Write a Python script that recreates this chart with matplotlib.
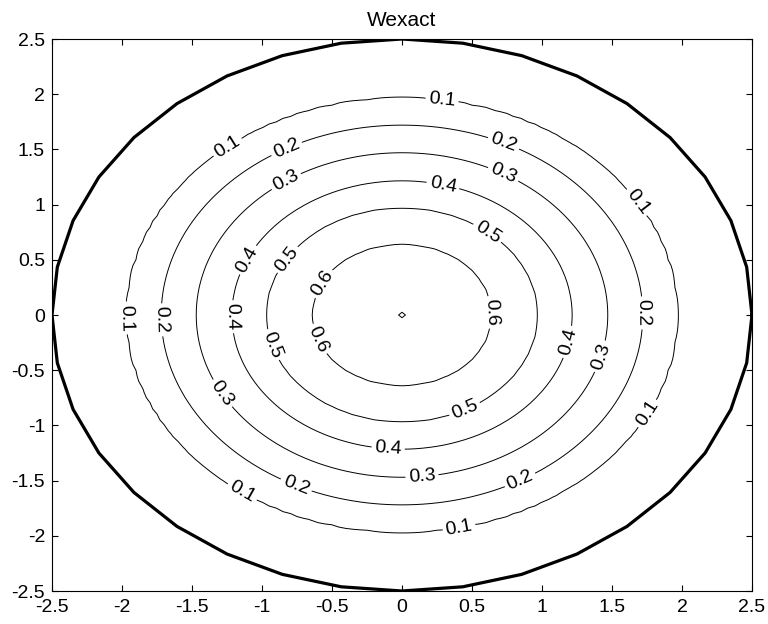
import numpy as np
import matplotlib
matplotlib.use("Agg")
import matplotlib.pyplot as plt

plt.rcParams['font.family'] = ['Liberation Sans', 'DejaVu Sans']

# plate boundary: circle of radius 2.5 drawn as a 36-sided polygon
plate_radius = 2.5
n_sides = 36

# radial profile of the exact deflection: radius -> W
profile_r = [0.0, 0.645, 0.97, 1.215, 1.47, 1.72, 1.965, 2.5]
profile_w = [0.704, 0.6, 0.5, 0.4, 0.3, 0.2, 0.1, 0.0]

levels = [0.1, 0.2, 0.3, 0.4, 0.5, 0.6, 0.7]
label_levels = [0.1, 0.2, 0.3, 0.4, 0.5, 0.6]

# where the contour labels sit (data coords)
label_pts = [
    (0.286, 1.947), (-1.243, 1.513), (1.671, 1.014), (-1.979, -0.027),
    (-1.15, -1.621), (0.407, -1.920), (1.757, -0.897),
    (-0.821, 1.495), (0.721, 1.540), (1.686, 0.018), (-1.743, -0.045),
    (-0.764, -1.567), (0.843, -1.495),
    (-0.821, 1.196), (0.714, 1.25), (1.429, -0.380), (-1.3, -0.725),
    (0.143, -1.467),
    (-1.1, 0.498), (0.293, 1.178), (1.186, -0.245), (-1.264, -0.018),
    (-0.1, -1.241),
    (-0.814, 0.498), (0.614, 0.752), (0.45, -0.861), (-0.964, -0.29),
    (-0.571, 0.29), (0.664, 0.027), (-0.607, -0.226),
]

# coarse grid, like the FE mesh the solution lives on
x = np.linspace(-plate_radius, plate_radius, 101)
X, Y = np.meshgrid(x, x)
R = np.hypot(X, Y)
W = np.interp(R, profile_r, profile_w)
W = np.ma.masked_where(R > plate_radius, W)

fig = plt.figure(figsize=(7.68, 6.24), dpi=100)
ax = fig.add_axes([52 / 768, 1 - 591 / 624, 700 / 768, 552 / 624])

cs = ax.contour(X, Y, W, levels=levels, colors='k', linewidths=0.7)
ax.clabel(cs, levels=label_levels, manual=label_pts, inline=True,
          inline_spacing=3, fontsize=14, fmt='%.1f')

th = np.linspace(0, 2 * np.pi, n_sides + 1)
ax.plot(plate_radius * np.cos(th), plate_radius * np.sin(th), color='k', linewidth=2.3)

ax.set_xlim(-2.5, 2.5)
ax.set_ylim(-2.5, 2.5)
ticks = np.arange(-2.5, 2.51, 0.5)
ax.set_xticks(ticks)
ax.set_yticks(ticks)
ax.set_xticklabels(['%g' % t for t in ticks])
ax.set_yticklabels(['%g' % t for t in ticks])
ax.tick_params(direction='in', top=True, right=True, length=4, width=0.8, labelsize=14)
ax.tick_params(axis='x', pad=6)
ax.tick_params(axis='y', pad=5)
for s in ax.spines.values():
    s.set_linewidth(0.8)

ax.set_title('Wexact', fontsize=15, pad=9)

fig.savefig('out.png', dpi=100)
